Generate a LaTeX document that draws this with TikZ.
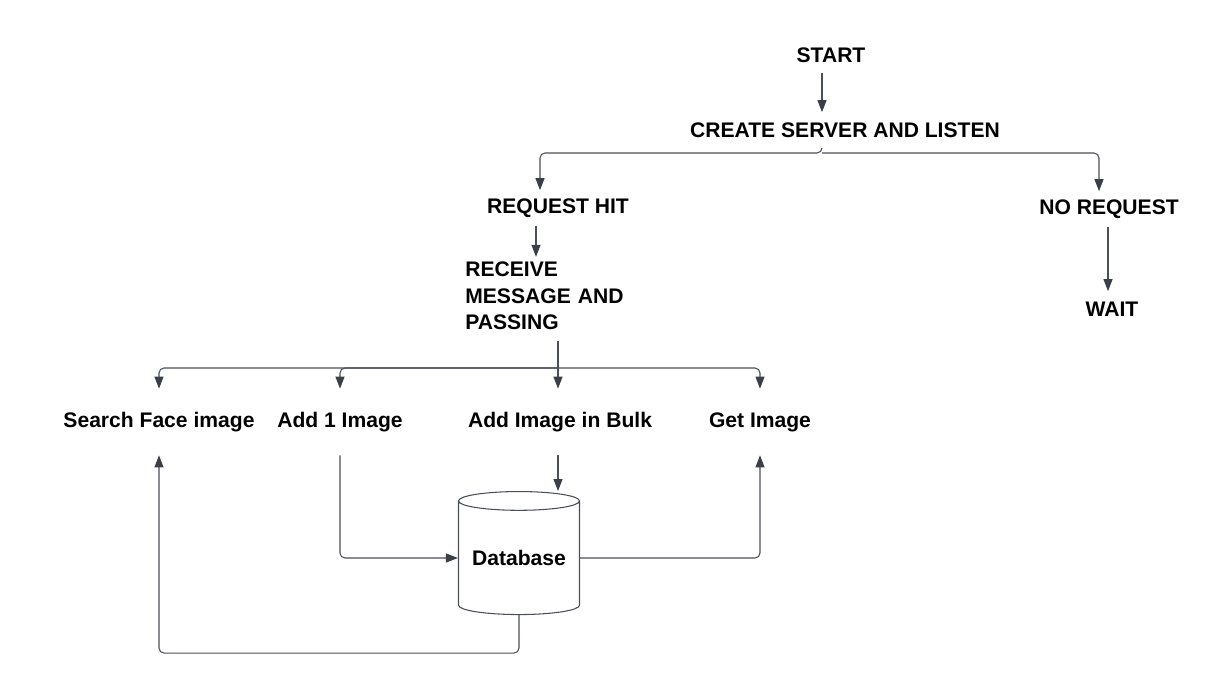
\documentclass[tikz,border=0pt]{standalone}
\usepackage{fontspec}
\setmainfont{Liberation Sans}
\usetikzlibrary{positioning,arrows.meta,shapes.geometric,calc}
\definecolor{colorwhite}{RGB}{255,255,255}
\definecolor{colortext} {RGB}{  0,  0,  0}
\definecolor{colorline} {RGB}{ 75, 79, 88}
\definecolor{colorhead} {RGB}{ 58, 63, 72}

\begin{document}
\begin{tikzpicture}[
    title/.style={text=colortext,font={\fontsize{12}{15}\selectfont\bfseries},inner sep=0pt,minimum height=0.7cm},
    task/.style={title,minimum height=1.32cm},
    store/.style={title,cylinder,shape border rotate=90,aspect=0.2,draw=colorline,line width=0.6pt,fill=colorwhite,minimum width=2.42cm,minimum height=2.46cm},
    wire/.style={colorline,line width=0.6pt,rounded corners=0.1cm},
    flow/.style={wire,-{Triangle[length=0.24cm,width=0.18cm,color=colorhead]}},
]
    \useasboundingbox (0,0) rectangle (24.4,13.9);

    % Server
    \node[title] at (16.62,12.80) (start) {START};
    \node[title] at (16.90,11.30) (create) {CREATE SERVER AND LISTEN};
    \node[title] at (11.16,9.74) (hit) {REQUEST HIT};
    \node[title] at (22.18,9.72) (norequest) {NO REQUEST};
    \node[title] at (22.24,7.72) (wait) {WAIT};
    \node[title,text width=3.4cm,align=left,anchor=west,inner sep=0.1cm] at (9.20,7.98) (receive) {RECEIVE\\MESSAGE AND\\PASSING};

    % Routes
    \node[task] at (3.18,5.46) (search) {Search Face image};
    \node[task] at (6.80,5.46) (addone) {Add 1 Image};
    \node[task] at (11.20,5.46) (bulk) {Add Image in Bulk};
    \node[task] at (15.20,5.46) (get) {Get Image};

    % Database
    \node[store] at (10.38,2.74) (database) {Database};

    % Arrows
    \coordinate (split) at (16.44,10.84);
    \coordinate (fork) at (11.16,6.54);
    \draw[flow] ([xshift=-0.18cm]start.south) -- ([xshift=-0.18cm]start.south |- create.north); % start to create
    \draw[flow] (create.south -| split) -- (split) -| ([xshift=-0.36cm]hit.north); % create to request hit
    \draw[flow] (split) -| ([xshift=-0.20cm]norequest.north); % create to no request
    \draw[flow] ([xshift=-0.44cm]hit.south) -- ([xshift=-0.44cm]hit.south |- receive.north); % request hit to receive
    \draw[flow] ([xshift=-0.02cm]norequest.south) -- ([xshift=-0.02cm]norequest.south |- wait.north); % no request to wait
    \draw[wire] ([yshift=-0.12cm]receive.south -| fork) -- (fork); % receive to routes
    \draw[flow] (fork) -| (search.north);
    \draw[flow] (fork) -| (addone.north);
    \draw[flow] (fork) -- (bulk.north -| fork);
    \draw[flow] (fork) -| (get.north);
    \draw[flow] (bulk.south -| fork) -- (fork |- database.north); % bulk to database
    \draw[flow] (addone.south) |- (database.west); % add 1 to database
    \draw[flow] (database.east) -| (get.south); % database to get
    \draw[flow] (database.south) -- ++(0,-0.76) -| (search.south); % database to search
\end{tikzpicture}
\end{document}
